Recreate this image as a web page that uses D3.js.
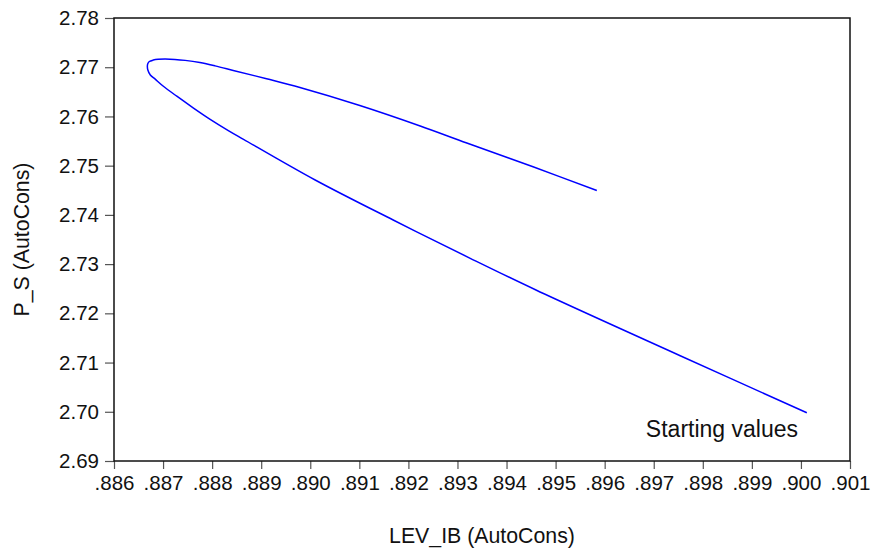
<!DOCTYPE html>
<html>
<head>
<meta charset="utf-8">
<script src="https://cdn.jsdelivr.net/npm/d3@7"></script>
<style>
  body { margin: 0; background: #fff; }
  text { font-family: "Liberation Sans", Arial, sans-serif; fill: #111; }
</style>
</head>
<body>
<div id="chart"></div>
<script>
// path of (LEV_IB, P_S), from the starting values round the loop
const levIB = [0.90012, 0.89754, 0.89460, 0.89326, 0.89169, 0.89010, 0.88864, 0.88833,
  0.88796, 0.88762, 0.88728, 0.88700, 0.88684, 0.88674, 0.88669, 0.88668, 0.88669,
  0.88672, 0.88680, 0.88690, 0.88704, 0.88724, 0.88745, 0.88775, 0.88806, 0.88843,
  0.88911, 0.88979, 0.89101, 0.89224, 0.89319, 0.89454, 0.89584];
const pS = [2.69981, 2.71139, 2.72474, 2.73118, 2.73896, 2.74709, 2.75536, 2.75714,
  2.75942, 2.76171, 2.76411, 2.76618, 2.76757, 2.76842, 2.76944, 2.77025, 2.77076,
  2.77116, 2.77145, 2.77161, 2.77167, 2.77159, 2.77139, 2.77094, 2.77027, 2.76935,
  2.76765, 2.76588, 2.76222, 2.75806, 2.75460, 2.74977, 2.74495];

const xTicks = [0.886, 0.887, 0.888, 0.889, 0.890, 0.891, 0.892, 0.893,
  0.894, 0.895, 0.896, 0.897, 0.898, 0.899, 0.900, 0.901];
const yTicks = [2.69, 2.70, 2.71, 2.72, 2.73, 2.74, 2.75, 2.76, 2.77, 2.78];

const xTitle = "LEV_IB (AutoCons)";
const yTitle = "P_S (AutoCons)";
const note = "Starting values";

const width = 873, height = 551;
const margin = { top: 18, right: 23, bottom: 90, left: 114 };
const w = width - margin.left - margin.right;
const h = height - margin.top - margin.bottom;

const svg = d3.select("#chart").append("svg")
    .attr("width", width)
    .attr("height", height);

const g = svg.append("g")
    .attr("transform", `translate(${margin.left},${margin.top})`);

const x = d3.scaleLinear().domain([0.886, 0.901]).range([0, w]);
const y = d3.scaleLinear().domain([2.69, 2.78]).range([h, 0]);

// axes
const xAxis = g.append("g")
    .attr("transform", `translate(0,${h})`)
    .call(d3.axisBottom(x).tickValues(xTicks).tickSize(8).tickPadding(6)
        .tickFormat(d => d3.format(".3f")(d).replace(/^0/, "")));

const yAxis = g.append("g")
    .call(d3.axisLeft(y).tickValues(yTicks).tickSize(9).tickPadding(6)
        .tickFormat(d3.format(".2f")));

[xAxis, yAxis].forEach(a => {
    a.select(".domain").remove();
    a.selectAll(".tick line").attr("stroke", "#555").attr("stroke-width", 1.2);
    a.selectAll(".tick text")
        .style("font-size", "20.5px")
        .attr("fill", "#111");
});

// frame
g.append("rect")
    .attr("width", w)
    .attr("height", h)
    .attr("fill", "none")
    .attr("stroke", "#111")
    .attr("stroke-width", 1.5);

// the curve
const pts = levIB.map((v, i) => [v, pS[i]]);
g.append("path")
    .datum(pts)
    .attr("fill", "none")
    .attr("stroke", "#0000ff")
    .attr("stroke-width", 1.5)
    .attr("d", d3.line()
        .x(d => x(d[0]))
        .y(d => y(d[1]))
        .curve(d3.curveCatmullRom.alpha(0.5)));

g.append("text")
    .attr("x", w - 52)
    .attr("y", h - 24)
    .attr("text-anchor", "end")
    .style("font-size", "23px")
    .text(note);

// titles
svg.append("text")
    .attr("x", margin.left + w / 2)
    .attr("y", 543)
    .attr("text-anchor", "middle")
    .style("font-size", "21.3px")
    .text(xTitle);

svg.append("text")
    .attr("transform", `translate(29,${margin.top + h / 2}) rotate(-90)`)
    .attr("text-anchor", "middle")
    .style("font-size", "21.3px")
    .text(yTitle);
</script>
</body>
</html>
